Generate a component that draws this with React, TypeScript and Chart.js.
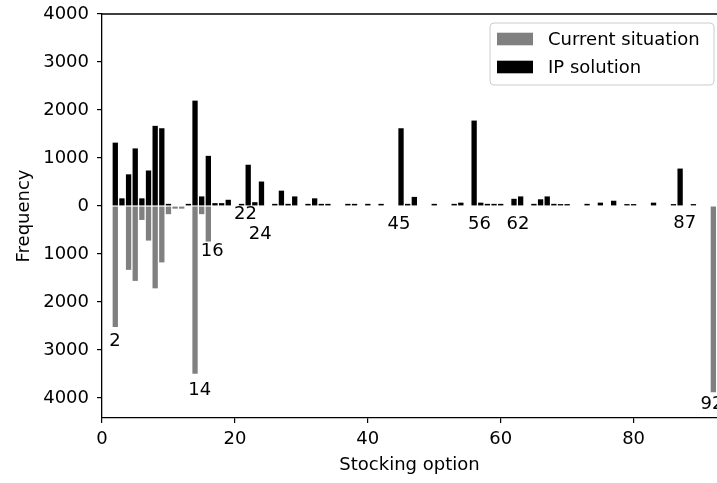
import React, { useEffect, useRef } from "react";
import { Chart, registerables } from "chart.js";

Chart.register(...registerables);

// ---- data ----
const ipOptions = [2, 3, 4, 5, 6, 7, 8, 9, 10, 13, 14, 15, 16, 17, 18, 19, 21, 22, 23, 24, 26, 27, 28, 29, 31, 32, 33, 34, 37, 38, 40, 42, 45, 46, 47, 50, 53, 54, 56, 57, 58, 59, 60, 62, 63, 65, 66, 67, 68, 69, 70, 73, 75, 77, 79, 80, 83, 86, 87, 89];
const ipFreq = [1320, 160, 660, 1200, 160, 740, 1670, 1620, 45, 45, 2195, 200, 1045, 60, 60, 130, 45, 860, 80, 510, 45, 320, 45, 200, 45, 160, 45, 45, 45, 45, 45, 45, 1620, 45, 190, 45, 45, 70, 1780, 70, 45, 45, 45, 150, 200, 45, 140, 200, 45, 40, 40, 45, 70, 110, 40, 40, 70, 40, 780, 40];
const currentOptions = [2, 4, 5, 6, 7, 8, 9, 10, 11, 12, 14, 15, 16, 92];
const currentFreq = [2520, 1330, 1560, 290, 720, 1715, 1175, 170, 55, 55, 3495, 170, 740, 3880];

const seriesNames = ["Current situation", "IP solution"];
const seriesColors = ["#808080", "#000000"];

const xTicks = [0, 20, 40, 60, 80];
const yTicks = [-4000, -3000, -2000, -1000, 0, 1000, 2000, 3000, 4000];

// annotated stocking options and where their labels sit (data units)
const labelOptions = [2, 14, 16, 22, 24, 45, 56, 62, 87, 92];
const labelX = [1.95, 14.7, 16.6, 21.6, 23.8, 44.7, 56.8, 62.6, 87.7, 91.8];
const labelY = [-2827, -3847, -953, -173, -589, -381, -381, -381, -360, -4128];

const FONT = '"DejaVu Sans", sans-serif';
const FS = 18;

const overlayPlugin = {
  id: "overlay",
  afterDraw(chart: any) {
    const { ctx, chartArea, scales } = chart;
    ctx.save();
    // top spine
    ctx.strokeStyle = "#000";
    ctx.lineWidth = 1.3;
    ctx.beginPath();
    ctx.moveTo(chartArea.left, chartArea.top);
    ctx.lineTo(chartArea.right, chartArea.top);
    ctx.stroke();

    // annotations
    ctx.fillStyle = "#000";
    ctx.font = `${FS}px ${FONT}`;
    ctx.textAlign = "center";
    ctx.textBaseline = "middle";
    labelOptions.forEach((opt, i) => {
      const px = scales.x.getPixelForValue(labelX[i]);
      const py = scales.y.getPixelForValue(labelY[i]);
      ctx.fillText(String(opt), px, py);
    });

    // legend
    const lx = 490, ly = 23, lw = 224, lh = 62, r = 4;
    ctx.beginPath();
    ctx.moveTo(lx + r, ly);
    ctx.lineTo(lx + lw - r, ly);
    ctx.quadraticCurveTo(lx + lw, ly, lx + lw, ly + r);
    ctx.lineTo(lx + lw, ly + lh - r);
    ctx.quadraticCurveTo(lx + lw, ly + lh, lx + lw - r, ly + lh);
    ctx.lineTo(lx + r, ly + lh);
    ctx.quadraticCurveTo(lx, ly + lh, lx, ly + lh - r);
    ctx.lineTo(lx, ly + r);
    ctx.quadraticCurveTo(lx, ly, lx + r, ly);
    ctx.closePath();
    ctx.fillStyle = "rgba(255,255,255,0.8)";
    ctx.fill();
    ctx.strokeStyle = "#cccccc";
    ctx.lineWidth = 1;
    ctx.stroke();

    ctx.textAlign = "left";
    seriesNames.forEach((name, i) => {
      const cy = 39 + i * 28;
      ctx.fillStyle = seriesColors[i];
      ctx.fillRect(497, cy - 6.3, 36, 12.6);
      ctx.fillStyle = "#000";
      ctx.fillText(name, 548, cy + 1);
    });
    ctx.restore();
  },
};

export default function App() {
  const canvasRef = useRef<HTMLCanvasElement | null>(null);

  useEffect(() => {
    const canvas = canvasRef.current;
    if (!canvas) return;
    const chart = new Chart(canvas, {
      type: "bar",
      data: {
        datasets: [
          {
            label: seriesNames[0],
            data: currentOptions.map((x, i) => ({ x, y: -currentFreq[i] })),
            backgroundColor: seriesColors[0],
            borderWidth: 0,
          },
          {
            label: seriesNames[1],
            data: ipOptions.map((x, i) => ({ x, y: ipFreq[i] })),
            backgroundColor: seriesColors[1],
            borderWidth: 0,
          },
        ],
      },
      options: {
        animation: false,
        responsive: false,
        devicePixelRatio: 1,
        layout: { padding: { top: 14, right: 0, bottom: 0, left: 0 } },
        datasets: {
          bar: { grouped: false, categoryPercentage: 0.8, barPercentage: 1 },
        },
        plugins: { legend: { display: false }, tooltip: { enabled: false } },
        scales: {
          x: {
            type: "linear",
            min: 0,
            max: 92.55,
            offset: false,
            afterFit: (s: any) => {
              s.height = 65;
              s.paddingLeft = 0;
              s.paddingRight = 0;
            },
            afterBuildTicks: (s: any) => {
              s.ticks = xTicks.map((v) => ({ value: v }));
            },
            grid: {
              display: true,
              offset: false,
              drawOnChartArea: false,
              drawTicks: true,
              tickLength: 5,
              color: "#000",
              lineWidth: 1.2,
            },
            border: { display: true, color: "#000", width: 1.3 },
            ticks: {
              color: "#000",
              font: { family: FONT, size: FS },
              padding: 6,
              maxRotation: 0,
              callback: (v: any) => String(v),
            },
            title: {
              display: true,
              text: "Stocking option",
              color: "#000",
              font: { family: FONT, size: FS },
              padding: { top: 0, bottom: 7 },
            },
          },
          y: {
            type: "linear",
            min: -4416,
            max: 4000,
            afterFit: (s: any) => {
              s.width = 102;
              s.paddingTop = 0;
              s.paddingBottom = 0;
            },
            afterBuildTicks: (s: any) => {
              s.ticks = yTicks.map((v) => ({ value: v }));
            },
            grid: {
              display: true,
              offset: false,
              drawOnChartArea: false,
              drawTicks: true,
              tickLength: 5,
              color: "#000",
              lineWidth: 1.2,
            },
            border: { display: true, color: "#000", width: 1.3 },
            ticks: {
              color: "#000",
              font: { family: FONT, size: FS },
              padding: 8,
              callback: (v: any) => String(Math.abs(Number(v))),
            },
            title: {
              display: true,
              text: "Frequency",
              color: "#000",
              font: { family: FONT, size: FS },
              padding: { top: 14, bottom: 0 },
            },
          },
        },
      },
      plugins: [overlayPlugin],
    });
    return () => chart.destroy();
  }, []);

  return (
    <div
      style={{
        position: "absolute",
        left: 0,
        top: 0,
        width: 717,
        height: 483,
        overflow: "hidden",
        background: "#fff",
      }}
    >
      <canvas ref={canvasRef} width={717} height={483} style={{ display: "block" }} />
    </div>
  );
}
